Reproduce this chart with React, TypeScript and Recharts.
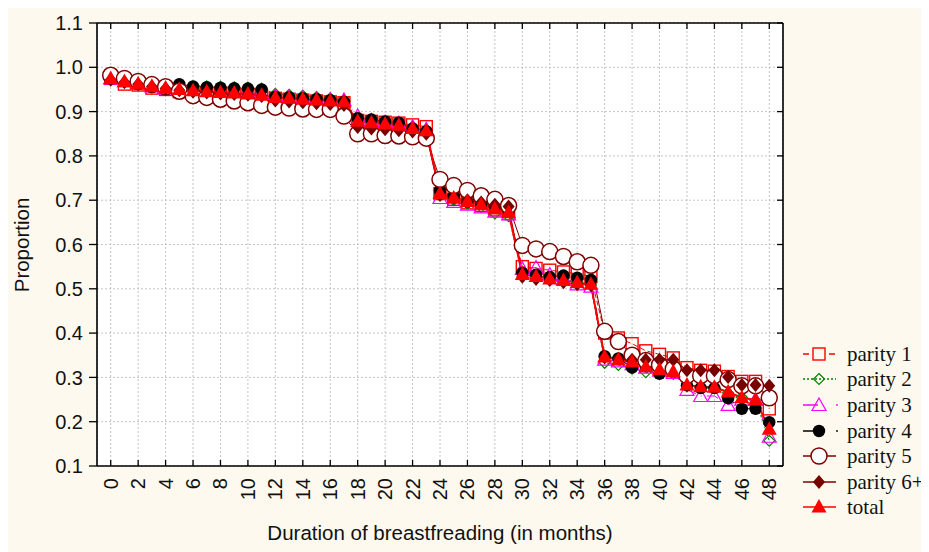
import React from 'react';
import { LineChart, Line, XAxis, YAxis, CartesianGrid } from 'recharts';

const months = [0,1,2,3,4,5,6,7,8,9,10,11,12,13,14,15,16,17,18,19,20,21,22,23,24,25,26,27,28,29,30,31,32,33,34,35,36,37,38,39,40,41,42,43,44,45,46,47,48];
const xTicks = [0,2,4,6,8,10,12,14,16,18,20,22,24,26,28,30,32,34,36,38,40,42,44,46,48];
const yTicks = [0.1,0.2,0.3,0.4,0.5,0.6,0.7,0.8,0.9,1.0,1.1];

const parity1 = [0.975,0.962,0.960,0.953,0.950,0.945,0.945,0.943,0.942,0.940,0.938,0.935,0.930,0.928,0.926,0.924,0.922,0.920,0.880,0.878,0.876,0.874,0.870,0.866,0.715,0.702,0.694,0.688,0.678,0.670,0.550,0.546,0.542,0.538,0.534,0.528,0.400,0.389,0.376,0.360,0.352,0.344,0.322,0.316,0.314,0.302,0.291,0.291,0.229];
const parity2 = [0.978,0.970,0.968,0.962,0.958,0.958,0.957,0.957,0.956,0.955,0.954,0.952,0.940,0.938,0.936,0.933,0.930,0.926,0.880,0.878,0.875,0.872,0.858,0.852,0.715,0.700,0.692,0.685,0.670,0.664,0.535,0.530,0.525,0.520,0.516,0.511,0.333,0.328,0.320,0.312,0.310,0.308,0.280,0.278,0.276,0.265,0.255,0.248,0.157];
const parity3 = [0.975,0.968,0.963,0.957,0.952,0.950,0.948,0.946,0.945,0.944,0.943,0.940,0.935,0.933,0.931,0.929,0.927,0.926,0.890,0.880,0.876,0.874,0.866,0.860,0.705,0.696,0.690,0.684,0.674,0.668,0.545,0.548,0.532,0.522,0.510,0.505,0.340,0.336,0.330,0.322,0.315,0.310,0.272,0.258,0.258,0.238,0.250,0.250,0.166];
const parity4 = [0.975,0.970,0.968,0.962,0.958,0.962,0.957,0.955,0.954,0.953,0.952,0.950,0.933,0.932,0.930,0.928,0.926,0.922,0.885,0.882,0.878,0.875,0.862,0.856,0.722,0.710,0.697,0.692,0.686,0.676,0.536,0.532,0.527,0.530,0.525,0.520,0.348,0.343,0.322,0.325,0.308,0.315,0.282,0.276,0.276,0.253,0.229,0.229,0.199];
const parity5 = [0.982,0.975,0.968,0.961,0.956,0.946,0.936,0.932,0.928,0.924,0.920,0.914,0.910,0.908,0.906,0.905,0.905,0.890,0.850,0.850,0.846,0.845,0.843,0.840,0.747,0.733,0.722,0.710,0.702,0.688,0.598,0.590,0.584,0.573,0.561,0.553,0.404,0.381,0.350,0.338,0.328,0.319,0.304,0.304,0.304,0.295,0.281,0.281,0.254];
const parity6 = [0.972,0.966,0.962,0.956,0.952,0.948,0.945,0.943,0.941,0.940,0.938,0.935,0.925,0.923,0.921,0.919,0.917,0.915,0.865,0.862,0.860,0.858,0.855,0.850,0.712,0.705,0.700,0.695,0.690,0.686,0.527,0.522,0.520,0.515,0.510,0.508,0.345,0.342,0.340,0.340,0.340,0.340,0.316,0.316,0.316,0.301,0.283,0.283,0.281];
const total = [0.975,0.968,0.963,0.957,0.953,0.950,0.947,0.945,0.943,0.942,0.940,0.937,0.932,0.930,0.928,0.926,0.924,0.922,0.878,0.875,0.872,0.869,0.862,0.857,0.715,0.705,0.697,0.690,0.680,0.672,0.532,0.528,0.522,0.519,0.514,0.510,0.346,0.339,0.335,0.324,0.318,0.313,0.283,0.279,0.278,0.267,0.254,0.249,0.183];

const data = months.map((m, i) => ({
  month: m,
  p1: parity1[i], p2: parity2[i], p3: parity3[i], p4: parity4[i],
  p5: parity5[i], p6: parity6[i], total: total[i],
}));

const SANS = '"Liberation Sans", Arial, Helvetica, sans-serif';
const SERIF = '"Liberation Serif", "Times New Roman", serif';
const DARK = '#800000';

type Kind = 'sq' | 'diaO' | 'triO' | 'circB' | 'circO' | 'diaF' | 'triF';

function Marker({ kind, cx, cy }: { kind: Kind; cx: number; cy: number }) {
  switch (kind) {
    case 'sq':
      return <rect x={cx - 6} y={cy - 6} width={12} height={12} fill="none" stroke="#ff0000" strokeWidth={1.4} />;
    case 'diaO':
      return <polygon points={`${cx},${cy - 5.5} ${cx + 5.5},${cy} ${cx},${cy + 5.5} ${cx - 5.5},${cy}`} fill="none" stroke="#008000" strokeWidth={1.2} />;
    case 'triO':
      return <polygon points={`${cx},${cy - 7} ${cx + 7},${cy + 5.5} ${cx - 7},${cy + 5.5}`} fill="none" stroke="#ff00ff" strokeWidth={1.2} />;
    case 'circB':
      return <circle cx={cx} cy={cy} r={6.2} fill="#000" />;
    case 'circO':
      return <circle cx={cx} cy={cy} r={8} fill="#fff" stroke={DARK} strokeWidth={1.5} />;
    case 'diaF':
      return <polygon points={`${cx},${cy - 7} ${cx + 6},${cy} ${cx},${cy + 7} ${cx - 6},${cy}`} fill="#780000" />;
    case 'triF':
      return <polygon points={`${cx},${cy - 8} ${cx + 7.5},${cy + 5.5} ${cx - 7.5},${cy + 5.5}`} fill="#ff0000" />;
  }
  return null;
}

const dotFor = (kind: Kind) => (props: any) => {
  const { cx, cy, index } = props;
  if (cx == null || cy == null) return <g key={`${kind}-${index}`} />;
  return <Marker key={`${kind}-${index}`} kind={kind} cx={cx} cy={cy} />;
};

const BottomTick = (props: any) => {
  const { x, y, payload } = props;
  return (
    <g>
      <line x1={x} x2={x} y1={y} y2={y - 6} stroke="#000" strokeWidth={1.3} />
      <text
        transform={`translate(${x + 7},${y + 12}) rotate(-90)`}
        textAnchor="end"
        fontSize={20}
        fontFamily={SANS}
        fill="#111"
      >
        {payload.value}
      </text>
    </g>
  );
};

const TopTick = (props: any) => {
  const { x, y } = props;
  return <line x1={x} x2={x} y1={y} y2={y + 6} stroke="#000" strokeWidth={1.3} />;
};

const RightTick = (props: any) => {
  const { x, y } = props;
  return <line x1={x} x2={x - 6} y1={y} y2={y} stroke="#000" strokeWidth={1.3} />;
};

type LineStyle = 'dash' | 'dot' | 'tail' | 'solid';
const legendItems: { label: string; color: string; style: LineStyle; kind: Kind }[] = [
  { label: 'parity 1', color: '#ff0000', style: 'dash', kind: 'sq' },
  { label: 'parity 2', color: '#008000', style: 'dot', kind: 'diaO' },
  { label: 'parity 3', color: '#ff00ff', style: 'tail', kind: 'triO' },
  { label: 'parity 4', color: '#000', style: 'tail', kind: 'circB' },
  { label: 'parity 5', color: DARK, style: 'solid', kind: 'circO' },
  { label: 'parity 6+', color: DARK, style: 'solid', kind: 'diaF' },
  { label: 'total', color: '#ff0000', style: 'solid', kind: 'triF' },
];

function LegendLine({ style, color }: { style: LineStyle; color: string }) {
  if (style === 'dash') {
    return (
      <>
        <line x1={3} x2={9} y1={11} y2={11} stroke={color} strokeWidth={1.5} />
        <line x1={29} x2={35} y1={11} y2={11} stroke={color} strokeWidth={1.5} />
      </>
    );
  }
  if (style === 'dot') {
    return <line x1={3} x2={36} y1={11} y2={11} stroke={color} strokeWidth={1.5} strokeDasharray="2 2" />;
  }
  if (style === 'tail') {
    return (
      <>
        <line x1={3} x2={18} y1={11} y2={11} stroke={color} strokeWidth={1.5} />
        <circle cx={37} cy={11} r={0.9} fill={color} />
      </>
    );
  }
  return <line x1={3} x2={36} y1={11} y2={11} stroke={color} strokeWidth={1.5} />;
}

function LegendBox() {
  return (
    <div style={{ position: 'absolute', left: 792, top: 333, width: 129, fontFamily: SERIF, fontSize: 21, color: '#111' }}>
      {legendItems.map((it) => (
        <div key={it.label} style={{ display: 'flex', alignItems: 'center', height: 25.6, whiteSpace: 'nowrap' }}>
          <svg width={44} height={22} style={{ display: 'block', flex: '0 0 44px' }}>
            <LegendLine style={it.style} color={it.color} />
            <Marker kind={it.kind} cx={19} cy={11} />
          </svg>
          <span style={{ marginLeft: 3, lineHeight: '22px', whiteSpace: 'nowrap' }}>{it.label}</span>
        </div>
      ))}
    </div>
  );
}

export default function App() {
  return (
    <div style={{ position: 'relative', width: 921, height: 544, background: '#fdf9ee' }}>
      <LineChart
        width={921}
        height={544}
        data={data}
        margin={{ top: 10, right: 136, bottom: 36, left: 29 }}
      >
        <CartesianGrid stroke="#c4c4c4" strokeDasharray="2 2" fill="#ffffff" />
        <XAxis
          dataKey="month"
          type="number"
          domain={[-1, 49]}
          ticks={xTicks}
          interval={0}
          height={50}
          tickSize={0}
          tickMargin={0}
          tick={<BottomTick />}
          axisLine={{ stroke: '#000', strokeWidth: 1.6 }}
          allowDataOverflow
        />
        <XAxis
          xAxisId="top"
          orientation="top"
          dataKey="month"
          type="number"
          domain={[-1, 49]}
          ticks={xTicks}
          interval={0}
          height={5}
          tickSize={0}
          tickMargin={0}
          tick={<TopTick />}
          axisLine={{ stroke: '#000', strokeWidth: 1.6 }}
          allowDataOverflow
        />
        <YAxis
          type="number"
          domain={[0.1, 1.1]}
          ticks={yTicks}
          interval={0}
          width={60}
          tickSize={8}
          tickMargin={6}
          tickFormatter={(v: number) => v.toFixed(1)}
          tick={{ fontSize: 20, fontFamily: SANS, fill: '#111' }}
          tickLine={{ stroke: '#000', strokeWidth: 1.3 }}
          axisLine={{ stroke: '#000', strokeWidth: 1.6 }}
          allowDataOverflow
        />
        <YAxis
          yAxisId="right"
          orientation="right"
          type="number"
          domain={[0.1, 1.1]}
          ticks={yTicks}
          interval={0}
          width={10}
          tickSize={0}
          tickMargin={0}
          tick={<RightTick />}
          axisLine={{ stroke: '#000', strokeWidth: 1.6 }}
          allowDataOverflow
        />
        <Line dataKey="p1" stroke="#ff0000" strokeWidth={1} strokeDasharray="5 3" dot={dotFor('sq')} activeDot={false} isAnimationActive={false} />
        <Line dataKey="p2" stroke="#008000" strokeWidth={1} strokeDasharray="2 2" dot={dotFor('diaO')} activeDot={false} isAnimationActive={false} />
        <Line dataKey="p3" stroke="#ff00ff" strokeWidth={1} strokeDasharray="12 5 1 5" dot={dotFor('triO')} activeDot={false} isAnimationActive={false} />
        <Line dataKey="p4" stroke="#000" strokeWidth={1} strokeDasharray="12 5 1 5" dot={dotFor('circB')} activeDot={false} isAnimationActive={false} />
        <Line dataKey="p5" stroke={DARK} strokeWidth={1} dot={dotFor('circO')} activeDot={false} isAnimationActive={false} />
        <Line dataKey="p6" stroke={DARK} strokeWidth={1.2} dot={dotFor('diaF')} activeDot={false} isAnimationActive={false} />
        <Line dataKey="total" stroke="#ff0000" strokeWidth={2} dot={dotFor('triF')} activeDot={false} isAnimationActive={false} />
      </LineChart>
      <div
        style={{
          position: 'absolute', left: 14, top: 237,
          transform: 'translate(-50%, -50%) rotate(-90deg)',
          fontFamily: SANS, fontSize: 20.5, color: '#111', whiteSpace: 'nowrap',
        }}
      >
        Proportion
      </div>
      <div
        style={{
          position: 'absolute', left: 432, top: 525,
          transform: 'translate(-50%, -50%)',
          fontFamily: SANS, fontSize: 20.5, color: '#111', whiteSpace: 'nowrap',
        }}
      >
        Duration of breastfreading (in months)
      </div>
      <LegendBox />
    </div>
  );
}
